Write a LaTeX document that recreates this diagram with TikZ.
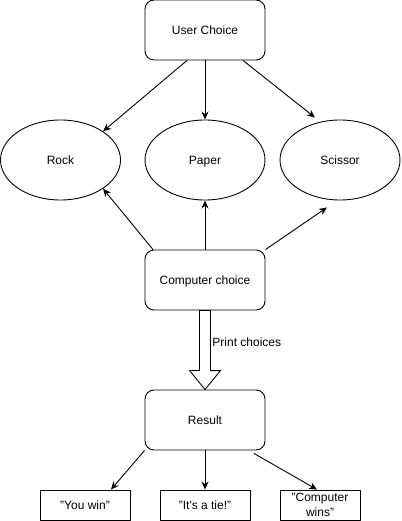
\documentclass[tikz,border=0pt]{standalone}
\usepackage{fontspec}
\setmainfont{Liberation Sans}
\usetikzlibrary{shapes.geometric,arrows.meta}
\begin{document}
\begin{tikzpicture}[x=1pt, y=-1pt, line width=0.9pt, line join=round, >={Stealth[length=8pt,width=7pt]},
	font=\fontsize{12pt}{15pt}\selectfont,
	choicebox/.style={draw,rounded corners=9pt,minimum width=120pt,minimum height=60pt,inner sep=0pt,text height=8.6pt,text depth=0pt},
	pickoval/.style={draw,ellipse,minimum width=120pt,minimum height=80pt,inner sep=0pt,text height=8.6pt,text depth=0pt},
	outbox/.style={draw,minimum width=90pt,minimum height=30pt,inner sep=0pt,align=center}]
	\useasboundingbox (0,0) rectangle (401,521);
	\node[choicebox] (user) at (205,30) {User Choice};
	\node[pickoval] (rock) at (60.5,160) {Rock};
	\node[pickoval] (paper) at (205,160) {Paper};
	\node[pickoval] (scissor) at (340,160) {Scissor};
	\node[choicebox] (computer) at (205,280) {Computer choice};
	\node[choicebox] (result) at (205,420) {Result};
	\node[outbox] (win) at (85,505) {"You win"};
	\node[outbox] (tie) at (205,505) {"It\textquotesingle s a tie!"};
	\node[outbox,minimum width=80pt] (lose) at (320,505) {"Computer\\wins"};
	\draw[->] ([xshift=-18pt]user.south) -- (rock.34);
	\draw[->] (user) -- (paper);
	\draw[->] ([xshift=38pt]user.south) -- ([xshift=-25pt,yshift=2pt]scissor.north);
	\draw[->] ([xshift=-52pt]computer.north) -- (rock.-34);
	\draw[->] (computer) -- (paper);
	\draw[->] (computer.north east) -- ([xshift=-13pt,yshift=-7pt]scissor.south);
	\draw[fill=white,line join=miter] ([xshift=-5.5pt]computer.south) -- ++(0,60) -- ++(-10,0)
		-- (result.north) -- ++(15.5,-19) -- ++(-10,0) -- ([xshift=5.5pt]computer.south) -- cycle;
	\node[right,inner sep=1pt] (print) at (211,342) {Print choices};
	\draw[->] (result.south west) -- ([xshift=26pt]win.north);
	\draw[->] (result) -- (tie);
	\draw[->] ([xshift=49pt,yshift=-3pt]result.south) -- ([xshift=-3pt]lose.north);
\end{tikzpicture}
\end{document}
